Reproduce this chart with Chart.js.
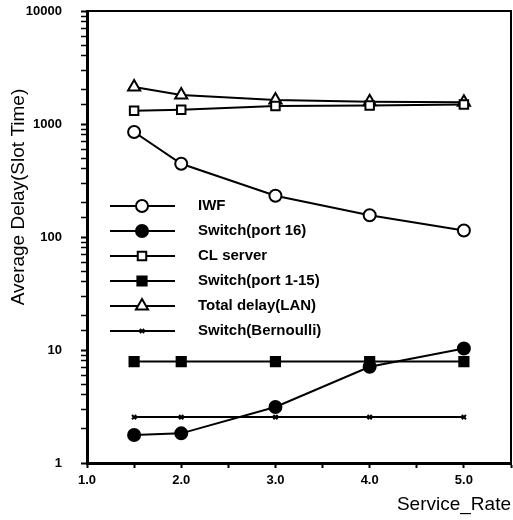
<!DOCTYPE html>
<html>
<head>
<meta charset="utf-8">
<script src="https://cdn.jsdelivr.net/npm/chart.js@4/dist/chart.umd.min.js"></script>
<style>
html,body{margin:0;padding:0;background:#fff;}
#wrap{position:relative;width:513px;height:520px;}
</style>
</head>
<body>
<div id="wrap"><canvas id="c" width="513" height="520"></canvas></div>
<script>
// ---- data ----
const serviceRates = [1.5, 2.0, 3.0, 4.0, 5.0];
const iwf = [850, 445, 232, 156, 114];
const switchPort16 = [1.77, 1.83, 3.13, 7.1, 10.3];
const clServer = [1310, 1340, 1440, 1460, 1490];
const switchPort1to15 = [7.9, 7.9, 7.9, 7.9, 7.9];
const totalDelayLAN = [2130, 1810, 1630, 1570, 1560];
const switchBernoulli = [2.55, 2.55, 2.55, 2.55, 2.55];
const seriesNames = ['IWF', 'Switch(port 16)', 'CL server', 'Switch(port 1-15)', 'Total delay(LAN)', 'Switch(Bernoulli)'];
const xTickLabels = ['1.0', '2.0', '3.0', '4.0', '5.0'];
const yTickLabels = ['1', '10', '100', '1000', '10000'];
const xTitle = 'Service_Rate';
const yTitle = 'Average Delay(Slot Time)';

const FONT = '"Liberation Sans", Arial, Helvetica, sans-serif';

function pts(vals){ return serviceRates.map((x,i)=>({x:x, y:vals[i]})); }

const styles = [
  {pointStyle:'circle', radius:6, bg:'#fff'},
  {pointStyle:'circle', radius:6, bg:'#000'},
  {pointStyle:'rect', radius:6, bg:'#fff'},
  {pointStyle:'rect', radius:6.5, bg:'#000'},
  {pointStyle:'triangle', radius:7, bg:'#fff'},
  {pointStyle:'crossRot', radius:3, bg:'#000'}
];
const allVals = [iwf, switchPort16, clServer, switchPort1to15, totalDelayLAN, switchBernoulli];

const datasets = allVals.map((v,i)=>({
  label: seriesNames[i],
  data: pts(v),
  borderColor: '#000',
  borderWidth: 2,
  backgroundColor: styles[i].bg,
  pointStyle: styles[i].pointStyle,
  pointRadius: styles[i].radius,
  pointBackgroundColor: styles[i].bg,
  pointBorderColor: '#000',
  pointBorderWidth: 2,
  tension: 0
}));

function zeroSides(s, sides){
  sides.forEach(k => {
    const P = 'padding' + k.charAt(0).toUpperCase() + k.slice(1);
    s[P] = 0;
    if (s._margins) s._margins[k] = 0;
  });
}

const extras = {
  id: 'extras',
  afterDatasetsDraw(chart){
    const ctx = chart.ctx, a = chart.chartArea;
    ctx.save();
    // box top/right
    ctx.strokeStyle = '#000';
    ctx.lineWidth = 2;
    ctx.beginPath();
    ctx.moveTo(a.left, a.top);
    ctx.lineTo(a.right, a.top);
    ctx.lineTo(a.right, a.bottom);
    ctx.stroke();
    // legend
    const lx0 = 110, lx1 = 175, lmx = 142, tx = 198, y0 = 206, dy = 25;
    ctx.font = 'bold 15px ' + FONT;
    ctx.textBaseline = 'middle';
    ctx.textAlign = 'left';
    chart.data.datasets.forEach((ds, i) => {
      const y = y0 + i*dy;
      ctx.strokeStyle = '#000';
      ctx.lineWidth = 2;
      ctx.beginPath(); ctx.moveTo(lx0, y); ctx.lineTo(lx1, y); ctx.stroke();
      const opts = {pointStyle: ds.pointStyle, radius: ds.pointRadius, rotation: 0, borderWidth: 2};
      ctx.fillStyle = ds.pointBackgroundColor;
      ctx.strokeStyle = '#000';
      ctx.lineWidth = 2;
      if (Chart.helpers && Chart.helpers.drawPoint) {
        Chart.helpers.drawPoint(ctx, opts, lmx, y);
      }
      ctx.fillStyle = '#000';
      ctx.fillText(ds.label, tx, y);
    });
    // y title
    ctx.save();
    ctx.translate(19, 197);
    ctx.rotate(-Math.PI/2);
    ctx.font = '19px ' + FONT;
    ctx.textAlign = 'center';
    ctx.textBaseline = 'middle';
    ctx.fillStyle = '#000';
    ctx.fillText(yTitle, 0, 0);
    ctx.restore();
    ctx.restore();
  }
};

new Chart(document.getElementById('c'), {
  type: 'line',
  data: { datasets },
  options: {
    responsive: false,
    animation: false,
    devicePixelRatio: 1,
    layout: { autoPadding: false, padding: { top: 11, right: 2, left: 0, bottom: 0 } },
    plugins: { legend: { display: false }, tooltip: { enabled: false } },
    scales: {
      x: {
        type: 'linear',
        min: 1, max: 5.5,
        afterFit(s){ s.height = 57; zeroSides(s, ['left','right']); },
        ticks: {
          stepSize: 0.5,
          autoSkip: false,
          maxRotation: 0,
          padding: 5,
          color: '#000',
          font: { family: FONT, size: 13, weight: 'bold' },
          callback(v){
            const i = xTickLabels.indexOf(Number(v).toFixed(1));
            return (Number.isInteger(v) && i >= 0) ? xTickLabels[i] : '';
          }
        },
        grid: { display: true, drawOnChartArea: false, drawTicks: true, tickLength: 5, tickWidth: 2, tickColor: '#000' },
        border: { display: true, color: '#000', width: 3 },
        title: { display: true, text: xTitle, align: 'end', color: '#000',
                 font: { family: FONT, size: 19 }, padding: { top: 0, bottom: 4 } }
      },
      y: {
        type: 'logarithmic',
        min: 1, max: 10000,
        afterFit(s){ s.width = 87; zeroSides(s, ['top','bottom']); },
        ticks: {
          autoSkip: false,
          padding: 19,
          color: '#000',
          font: { family: FONT, size: 13, weight: 'bold' },
          callback(v){
            const s = String(Math.round(v));
            const l = Math.log10(v);
            return (Math.abs(l - Math.round(l)) < 1e-9 && yTickLabels.includes(s)) ? s : '';
          }
        },
        grid: { display: true, drawOnChartArea: false, drawTicks: true, tickLength: 6, tickColor: '#000',
                tickWidth(ctx){ const v = ctx.tick ? ctx.tick.value : 0; const l = Math.log10(v); return Math.abs(l-Math.round(l))<1e-9 ? 2 : 1.5; } },
        border: { display: true, color: '#000', width: 3 }
      }
    }
  },
  plugins: [extras]
});
</script>
</body>
</html>
